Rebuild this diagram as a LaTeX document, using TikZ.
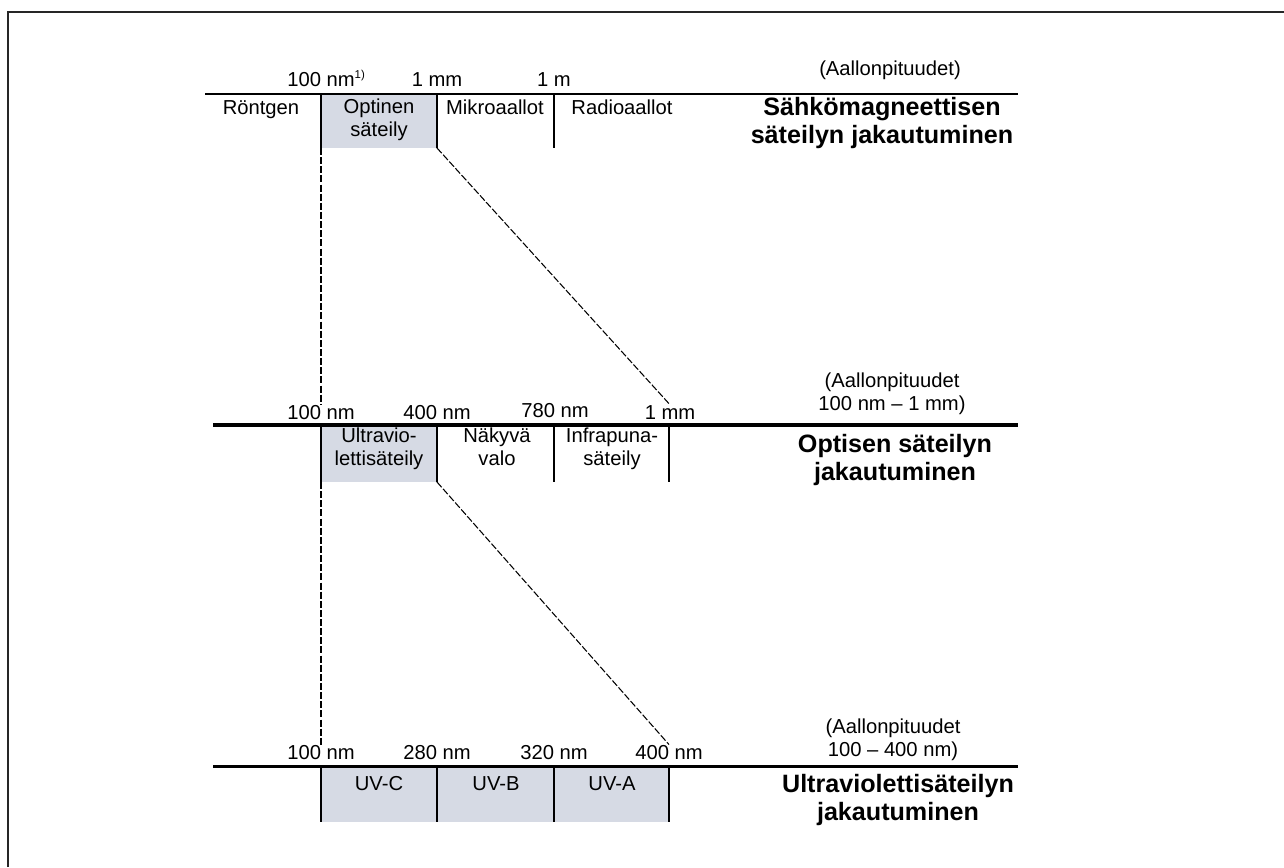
\documentclass[tikz,border=0pt]{standalone}
\usepackage{fontspec}
\setmainfont{Liberation Sans}
\definecolor{boxfill}{RGB}{214,218,228}
\tikzset{
  lbl/.style={inner sep=0pt, anchor=base, align=center, font=\fontsize{11.5}{13}\selectfont},
  title/.style={inner sep=0pt, anchor=base, align=center, font=\fontsize{14.3}{15.5}\selectfont\bfseries},
  divider/.style={line width=0.7pt},
  guide/.style={line width=0.6pt, dash pattern=on 4pt off 1.2pt},
}
\begin{document}
\begin{tikzpicture}[x=0.02cm, y=-0.02cm]
  \useasboundingbox (0,0) rectangle (1284,867);
  \draw [line width=1.2pt, black!85] (8,867) -- (8,12) -- (1284,12);

  % Sahkomagneettinen sateily
  \fill [boxfill] (321,94) rectangle (437,148);
  \draw [line width=1.3pt] (205,94) -- (1018,94);
  \draw [divider] (321,94) -- (321,148);
  \draw [divider] (437,94) -- (437,148);
  \draw [divider] (554,94) -- (554,148);
  \coordinate (optsw) at (321,148);
  \coordinate (optse) at (437,148);

  \node [lbl] (nmA) at (321,86) {100 nm\rlap{\raisebox{0.75ex}{\fontsize{6.5}{6.5}\selectfont 1)}}};
  \node [lbl] (mmA) at (437,86) {1 mm};
  \node [lbl] (mA) at (554,86) {1 m};
  \node [lbl] (aaltoA) at (890,75) {(Aallonpituudet)};
  \node [lbl] (rontgen) at (261,114) {Röntgen};
  \node [lbl] (optinen) at (379,136) {Optinen\\säteily};
  \node [lbl] (mikro) at (495,114) {Mikroaallot};
  \node [lbl] (radio) at (622,114) {Radioaallot};
  \node [title] (sahko) at (882,143) {Sähkömagneettisen\\säteilyn jakautuminen};

  % Optinen sateily
  \fill [boxfill] (321,425) rectangle (437,482);
  \draw [line width=2.2pt] (213,425) -- (1018,425);
  \draw [divider] (321,425) -- (321,482);
  \draw [divider] (437,425) -- (437,482);
  \draw [divider] (554,425) -- (554,482);
  \draw [divider] (669,425) -- (669,482);
  \coordinate (uvsw) at (321,482);
  \coordinate (uvse) at (437,482);

  \node [lbl] (nmB) at (321,419) {100 nm};
  \node [lbl] (nm400B) at (437,419) {400 nm};
  \node [lbl] (nm780B) at (555,417) {780 nm};
  \node [lbl] (mmB) at (670,419) {1 mm};
  \node [lbl] (aaltoB) at (892,410) {(Aallonpituudet\\100 nm -- 1 mm)};
  \node [lbl] (ultra) at (379,465) {Ultravio-\\lettisäteily};
  \node [lbl] (nakyva) at (497,465) {Näkyvä\\valo};
  \node [lbl] (infra) at (612,465) {Infrapuna-\\säteily};
  \node [title] (optisen) at (895,480) {Optisen säteilyn\\jakautuminen};

  \draw [guide] (optsw) -- (nmB.north);
  \draw [guide] (optse) -- (mmB.north);

  % Ultraviolettisateily
  \fill [boxfill] (321,766) rectangle (669,822);
  \draw [line width=1.7pt] (213,766) -- (1018,766);
  \draw [divider] (321,766) -- (321,822);
  \draw [divider] (437,766) -- (437,822);
  \draw [divider] (554,766) -- (554,822);
  \draw [divider] (669,766) -- (669,822);

  \node [lbl] (nmC) at (321,759) {100 nm};
  \node [lbl] (nm280C) at (437,759) {280 nm};
  \node [lbl] (nm320C) at (554,759) {320 nm};
  \node [lbl] (nm400C) at (669,759) {400 nm};
  \node [lbl] (aaltoC) at (893,756) {(Aallonpituudet\\100 -- 400 nm)};
  \node [lbl] (uvc) at (379,790) {UV-C};
  \node [lbl] (uvb) at (496,790) {UV-B};
  \node [lbl] (uva) at (612,790) {UV-A};
  \node [title] (ultraj) at (898,820) {Ultraviolettisäteilyn\\jakautuminen};

  \draw [guide] (uvsw) -- (nmC.north);
  \draw [guide] (uvse) -- (nm400C.north);
\end{tikzpicture}
\end{document}
